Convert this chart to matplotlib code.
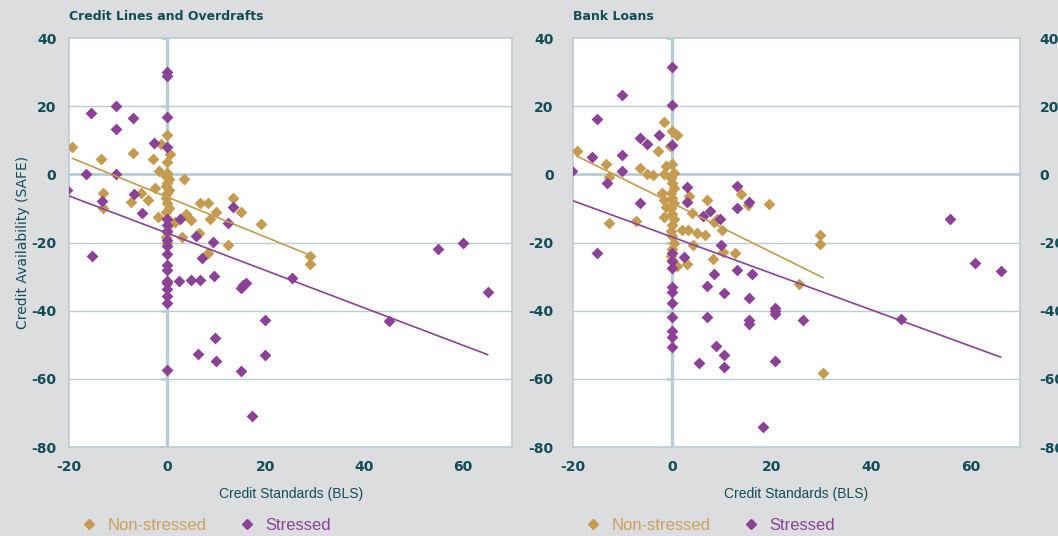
import matplotlib
matplotlib.use("Agg")
import matplotlib.pyplot as plt
from matplotlib import font_manager
from matplotlib.lines import Line2D
import numpy as np

# Credit lines and overdrafts: non-stressed countries
cl_ns_x = [-19.3, -13.4, -13.0, -13.0, -7.0, -7.4, -5.3, -4.0, -3.0, -2.5, -1.9, -1.4, -1.7,
           0.0, 0.0, 0.6, 3.3, 0.0, -0.3, 0.3, 0.0, -0.3, 0.3, 0.0, -0.3, 0.0, 0.3, -0.3,
           0.0, 0.3, 0.0, -0.3, 0.0, 1.6, 2.9, 3.7, 4.7, 6.3, 6.5, 8.2, 8.2, 8.6, 9.8,
           12.2, 13.3, 14.9, 19.0, 29.0, 29.0]
cl_ns_y = [7.9, 4.6, -5.4, -9.8, 6.3, -8.0, -5.4, -7.5, 4.6, -4.0, -12.5, 9.0, 1.0,
           11.5, 3.5, 5.9, -1.3, 0.5, -0.5, -1.5, -2.5, -3.5, -4.5, -5.5, -7.0, -8.5, -10.0, -11.0,
           -13.0, -15.0, -17.0, -18.5, -20.0, -14.0, -18.5, -11.5, -13.5, -17.3, -8.3, -8.5, -23.0, -13.0, -11.0,
           -20.6, -7.0, -11.0, -14.7, -24.0, -26.3]

# Credit lines and overdrafts: stressed countries
cl_s_x = [-20.5, -16.5, -15.5, -15.3, -13.3, -10.4, -10.4, -10.4, -7.0, -6.8, -5.2, -2.7,
          0.0, 0.0, 0.0, 0.0, 0.0, 0.0, 0.0, 0.0, 0.0, 0.0, 0.0, 0.0, 0.0, 0.0, 0.0, 0.0, 0.0, 0.0,
          2.6, 2.3, 4.8, 6.5, 5.8, 7.1, 9.2, 9.4, 12.2, 13.2, 14.9, 15.3, 15.9, 25.3,
          55.0, 60.0, 65.0, 19.8, 44.9, 9.6, 6.1, 9.8, 19.8, 14.9, 17.1]
cl_s_y = [-4.7, 0.0, 18.0, -24.0, -7.9, 20.0, 13.2, 0.0, 16.5, -5.9, -11.3, 9.2,
          30.0, 29.0, 16.8, 8.0, -13.0, -15.0, -16.5, -19.4, -21.0, -23.5, -26.5, -28.2, -31.2, -32.0,
          -33.5, -35.8, -37.8, -57.3,
          -13.0, -31.3, -31.1, -31.1, -18.0, -24.4, -19.7, -29.8, -14.4, -9.5, -33.2, -32.4, -31.8, -30.3,
          -22.0, -20.0, -34.4, -42.6, -43.0, -48.0, -52.6, -54.7, -52.9, -57.6, -71.0]

# Bank loans: non-stressed countries
bl_ns_x = [-19.2, -13.4, -12.7, -12.7, -6.6, -5.2, -3.8, -7.3, -2.8, -1.6, -1.2, -0.5, 0.0, 0.9,
           -1.6, -2.0, -1.6, -1.2, -1.6,
           0.0, 0.3, -0.3, 0.0, 0.3, -0.3, 0.0, 0.3, -0.3, 0.0, 0.3, 0.0, -0.3, 0.0, 0.3, 0.0, -0.3, 0.0,
           3.3, 3.9, 1.9, 3.1, 4.9, 6.6, 4.1, 7.0, 8.4, 9.0, 10.0, 8.2, 10.2, 12.7, 13.9, 15.3,
           19.4, 29.7, 29.7, 25.5, 30.3, 0.9, 2.9]
bl_ns_y = [6.8, 2.9, -0.9, -14.4, 1.8, 0.0, -0.3, -13.8, 6.8, 15.3, 2.6, 8.2, 12.6, 11.5,
           0.0, -5.6, -7.6, -9.7, -12.4,
           3.0, 0.5, -1.0, -2.5, -4.0, -5.5, -7.0, -8.5, -10.0, -11.5, -13.0, -15.0, -16.5, -18.0, -20.0,
           -22.0, -24.0, -25.0,
           -6.2, -11.2, -16.2, -16.2, -17.1, -17.9, -20.6, -7.4, -14.1, -13.2, -16.2, -24.7, -22.9, -23.2,
           -5.9, -9.1, -8.8, -17.9, -20.3, -32.1, -58.2, -26.8, -26.2]

# Bank loans: stressed countries
bl_s_x = [-20.3, -16.2, -15.2, -10.1, -13.1, -10.1, -10.1, -6.6, -5.2, -2.6,
          0.0, 0.0, 0.0, 0.0, 0.0, 0.0, 0.0, 0.0, 0.0, 0.0, 0.0, 0.0, 0.0,
          -6.6, -15.2, 2.9, 2.9, 6.2, 7.6, 9.6, 13.1, 13.1, 15.5, 9.8, 2.3,
          56.0, 61.0, 66.1, 7.0, 10.4, 15.5, 20.6, 20.6, 20.6, 7.0, 15.5, 15.5, 26.3,
          8.8, 10.4, 10.4, 5.3, 20.6, 18.2, 13.1, 16.1, 8.4, 46.0]
bl_s_y = [0.9, 5.0, 16.2, 23.2, -2.6, 5.6, 0.9, 10.6, 8.8, 11.5,
          31.5, 20.3, 8.5, -23.2, -25.3, -27.4, -33.0, -34.4, -37.6, -41.8, -45.9, -47.6, -50.6,
          -8.5, -23.2, -3.8, -8.2, -12.1, -10.6, -13.2, -3.5, -10.0, -8.2, -20.6, -24.1,
          -13.2, -25.9, -28.4, -32.8, -34.7, -36.2, -39.3, -40.1, -40.9, -41.8, -42.6, -43.8, -42.6,
          -50.5, -53.0, -56.5, -55.3, -54.7, -74.1, -28.2, -29.1, -29.1, -42.4]

panel_titles = ["Credit Lines and Overdrafts", "Bank Loans"]
legend_labels = ["Non-stressed", "Stressed"]
x_ticks = [-20, 0, 20, 40, 60]
y_ticks = [-80, -60, -40, -20, 0, 20, 40]

GOLD = "#c59b50"
GOLD_TEXT = "#c9a15c"
PURPLE = "#8b4196"
TEAL = "#124c57"
GRID = "#b9ccd2"
BG = "#dcdddf"

plt.rcParams["axes.unicode_minus"] = False

names = {f.name for f in font_manager.fontManager.ttflist}
narrow = "Liberation Sans Narrow" if "Liberation Sans Narrow" in names else "DejaVu Sans"
plain = "Liberation Sans" if "Liberation Sans" in names else "DejaVu Sans"

fig = plt.figure(figsize=(10.58, 5.36), dpi=100, facecolor=BG)
ax1 = fig.add_axes([0.0652, 0.166, 0.419, 0.763])
ax2 = fig.add_axes([0.5416, 0.166, 0.4225, 0.763])

panels = [
    (ax1, cl_ns_x, cl_ns_y, cl_s_x, cl_s_y),
    (ax2, bl_ns_x, bl_ns_y, bl_s_x, bl_s_y),
]

for (ax, nx, ny, sx, sy), title in zip(panels, panel_titles):
    ax.set_facecolor("white")
    ax.set_xlim(-20, 70)
    ax.set_ylim(-80, 40)
    ax.set_xticks(x_ticks)
    ax.set_yticks(y_ticks)
    for s in ax.spines.values():
        s.set_color(GRID)
        s.set_linewidth(1.2)
    ax.tick_params(length=0, labelsize=10, labelcolor=TEAL, pad=9)
    for lab in ax.get_xticklabels() + ax.get_yticklabels():
        lab.set_fontfamily(narrow)
        lab.set_fontweight("bold")

    # horizontal gridlines, heavier at zero, and the y axis crossing at x = 0
    for y in y_ticks[1:-1]:
        ax.axhline(y, color=GRID, lw=2.0 if y == 0 else 1.0, zorder=1)
    ax.axvline(0, color=GRID, lw=2.4, zorder=1)
    ax.hlines(y_ticks, -1.3, 0, color=GRID, lw=1.8, zorder=1)

    ax.scatter(nx, ny, marker="D", s=36, color=GOLD, lw=0, zorder=3)
    ax.scatter(sx, sy, marker="D", s=36, color=PURPLE, lw=0, zorder=4)

    # least-squares trend line for each group
    for xs, ys, c in ((nx, ny, GOLD), (sx, sy, PURPLE)):
        xs = np.asarray(xs)
        k, b = np.polyfit(xs, np.asarray(ys), 1)
        xx = np.array([xs.min(), xs.max()])
        ax.plot(xx, k * xx + b, color=c, lw=1.2, zorder=5)

    ax.set_xlabel("Credit Standards (BLS)", fontfamily=plain, fontsize=10,
                  color=TEAL, labelpad=10)
    ax.text(0.0, 1.038, title, transform=ax.transAxes, fontfamily=narrow,
            fontweight="bold", fontsize=9, color=TEAL, va="bottom", ha="left")

    handles = [Line2D([], [], ls="none", marker="D", ms=5.4, color=GOLD),
               Line2D([], [], ls="none", marker="D", ms=5.4, color=PURPLE)]
    pos = ax.get_position()
    leg = fig.legend(handles, legend_labels, loc="center left",
                     bbox_to_anchor=(pos.x0 + 0.005, 0.019), ncol=2, frameon=False,
                     prop={"family": plain, "size": 12}, handletextpad=0.6,
                     columnspacing=1.9, handlelength=1.0, borderaxespad=0)
    for t, c in zip(leg.get_texts(), (GOLD_TEXT, PURPLE)):
        t.set_color(c)

ax1.set_ylabel("Credit Availability (SAFE)", fontfamily=narrow, fontsize=10,
               color=TEAL, labelpad=1)
ax2.tick_params(labelright=True)
for lab in ax2.get_yticklabels(which="both"):
    lab.set_fontfamily(narrow)
    lab.set_fontweight("bold")
ax2.yaxis.set_tick_params(pad=14)

fig.savefig("out.png", dpi=100, facecolor=BG)
